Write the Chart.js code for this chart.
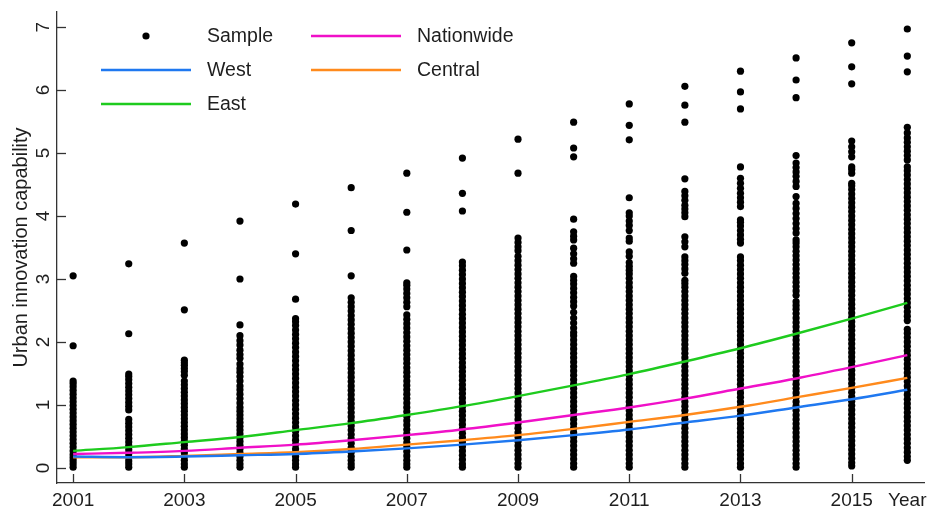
<!DOCTYPE html>
<html><head><meta charset="utf-8">
<script src="https://cdn.jsdelivr.net/npm/chart.js@4.4.1/dist/chart.umd.min.js"></script>
<style>html,body{margin:0;padding:0;background:#fff;}#wrap{width:932px;height:509px;}</style>
</head><body><div id="wrap"><canvas id="c" width="932" height="509"></canvas></div>
<script>
const years = [2001,2002,2003,2004,2005,2006,2007,2008,2009,2010,2011,2012,2013,2014,2015,2016];
const xTickValues = [2001,2003,2005,2007,2009,2011,2013,2015,2016];
const xTickLabels = ['2001','2003','2005','2007','2009','2011','2013','2015','Year'];
const yTickValues = [0,1,2,3,4,5,6,7];
const yTitle = 'Urban innovation capability';

const lineWest       = [0.18,0.17,0.18,0.20,0.22,0.26,0.31,0.37,0.44,0.52,0.61,0.72,0.83,0.96,1.09,1.24];
const lineEast       = [0.27,0.33,0.41,0.49,0.60,0.71,0.84,0.98,1.14,1.31,1.49,1.69,1.90,2.13,2.37,2.62];
const lineNationwide = [0.22,0.24,0.27,0.32,0.37,0.44,0.52,0.61,0.72,0.84,0.96,1.10,1.26,1.42,1.60,1.79];
const lineCentral    = [0.17,0.17,0.19,0.22,0.25,0.30,0.37,0.44,0.52,0.62,0.73,0.84,0.97,1.12,1.27,1.43];

const sample2001 = [0.01,0.06,0.11,0.16,0.21,0.27,0.33,0.39,0.45,0.51,0.57,0.63,0.69,0.75,0.81,0.87,0.93,0.99,1.05,1.11,1.17,1.23,1.29,1.34,1.38,1.94,3.05];
const sample2002 = [0.01,0.06,0.11,0.17,0.23,0.29,0.35,0.41,0.47,0.53,0.59,0.65,0.71,0.77,0.92,0.98,1.04,1.1,1.16,1.22,1.28,1.34,1.4,1.45,1.49,2.13,3.24];
const sample2003 = [0.01,0.06,0.12,0.18,0.24,0.3,0.36,0.42,0.48,0.54,0.6,0.66,0.72,0.78,0.84,0.9,0.96,1.02,1.08,1.14,1.2,1.26,1.32,1.38,1.47,1.53,1.58,1.63,1.67,1.71,2.51,3.57];
const sample2004 = [0.01,0.06,0.12,0.18,0.24,0.3,0.36,0.42,0.48,0.54,0.6,0.66,0.72,0.78,0.84,0.9,0.96,1.03,1.1,1.17,1.24,1.3,1.38,1.45,1.52,1.58,1.65,1.74,1.8,1.87,1.95,2.02,2.1,2.27,3.0,3.92];
const sample2005 = [0.01,0.06,0.12,0.18,0.24,0.3,0.37,0.44,0.51,0.58,0.65,0.72,0.79,0.86,0.93,1.0,1.07,1.14,1.21,1.28,1.35,1.42,1.49,1.56,1.63,1.7,1.77,1.84,1.91,1.98,2.05,2.12,2.19,2.26,2.32,2.37,2.68,3.4,4.19];
const sample2006 = [0.01,0.06,0.12,0.18,0.25,0.32,0.39,0.46,0.53,0.6,0.67,0.74,0.81,0.88,0.95,1.02,1.09,1.16,1.23,1.3,1.37,1.44,1.51,1.58,1.65,1.72,1.79,1.86,1.93,2.0,2.07,2.14,2.21,2.28,2.35,2.42,2.49,2.56,2.63,2.7,3.05,3.77,4.45];
const sample2007 = [0.01,0.06,0.12,0.19,0.26,0.33,0.4,0.47,0.54,0.61,0.68,0.75,0.82,0.89,0.96,1.03,1.1,1.17,1.24,1.31,1.38,1.45,1.52,1.59,1.66,1.73,1.8,1.87,1.94,2.01,2.08,2.15,2.22,2.29,2.36,2.43,2.56,2.63,2.7,2.77,2.84,2.9,2.94,3.46,4.06,4.68];
const sample2008 = [0.01,0.06,0.13,0.2,0.27,0.34,0.41,0.48,0.55,0.62,0.69,0.76,0.83,0.9,0.97,1.04,1.11,1.18,1.25,1.32,1.39,1.46,1.53,1.6,1.67,1.74,1.81,1.88,1.95,2.02,2.09,2.16,2.23,2.3,2.37,2.44,2.51,2.58,2.65,2.72,2.79,2.86,2.93,3.0,3.07,3.14,3.21,3.27,4.08,4.36,4.92];
const sample2009 = [0.01,0.07,0.14,0.21,0.28,0.35,0.42,0.49,0.56,0.63,0.7,0.77,0.84,0.91,0.98,1.05,1.12,1.19,1.26,1.33,1.4,1.47,1.54,1.61,1.68,1.75,1.82,1.89,1.96,2.03,2.1,2.17,2.24,2.31,2.38,2.45,2.52,2.59,2.66,2.73,2.8,2.87,2.94,3.01,3.08,3.15,3.22,3.29,3.36,3.45,3.51,3.58,3.65,4.68,5.22];
const sample2010 = [0.01,0.07,0.14,0.21,0.28,0.35,0.42,0.49,0.56,0.63,0.7,0.77,0.84,0.91,0.98,1.05,1.12,1.19,1.26,1.33,1.4,1.47,1.54,1.61,1.68,1.75,1.82,1.89,1.96,2.03,2.1,2.15,2.22,2.3,2.38,2.47,2.57,2.64,2.71,2.78,2.85,2.92,2.98,3.04,3.25,3.32,3.4,3.49,3.62,3.68,3.75,3.95,4.94,5.08,5.49];
const sample2011 = [0.01,0.07,0.14,0.21,0.28,0.35,0.42,0.49,0.56,0.63,0.7,0.77,0.84,0.91,0.98,1.05,1.12,1.19,1.26,1.33,1.4,1.47,1.54,1.61,1.68,1.75,1.82,1.89,1.96,2.03,2.1,2.17,2.24,2.31,2.38,2.45,2.52,2.59,2.66,2.73,2.8,2.87,2.94,3.01,3.08,3.14,3.2,3.26,3.36,3.43,3.6,3.65,3.77,3.85,3.92,4.0,4.05,4.29,5.21,5.44,5.78];
const sample2012 = [0.01,0.07,0.14,0.21,0.28,0.35,0.42,0.49,0.56,0.63,0.7,0.77,0.84,0.91,0.98,1.05,1.12,1.19,1.26,1.33,1.4,1.47,1.54,1.61,1.68,1.75,1.82,1.89,1.96,2.03,2.1,2.17,2.24,2.31,2.38,2.45,2.52,2.59,2.66,2.73,2.8,2.87,2.93,2.98,3.09,3.16,3.23,3.29,3.35,3.51,3.59,3.67,3.99,4.05,4.11,4.17,4.25,4.32,4.39,4.59,5.49,5.76,6.06];
const sample2013 = [0.01,0.07,0.14,0.21,0.28,0.35,0.42,0.49,0.56,0.63,0.7,0.77,0.84,0.91,0.98,1.05,1.12,1.19,1.26,1.33,1.4,1.47,1.54,1.61,1.68,1.75,1.82,1.89,1.96,2.03,2.1,2.17,2.24,2.31,2.38,2.45,2.52,2.59,2.66,2.73,2.8,2.87,2.94,3.01,3.08,3.15,3.22,3.29,3.35,3.57,3.63,3.7,3.77,3.84,3.9,3.94,4.15,4.22,4.29,4.36,4.44,4.52,4.6,4.78,5.7,5.97,6.3];
const sample2014 = [0.01,0.07,0.14,0.21,0.28,0.35,0.42,0.49,0.56,0.63,0.7,0.77,0.84,0.91,0.98,1.05,1.12,1.19,1.26,1.33,1.4,1.47,1.54,1.61,1.68,1.75,1.82,1.89,1.96,2.03,2.1,2.17,2.24,2.31,2.38,2.45,2.52,2.58,2.64,2.74,2.81,2.88,2.95,3.02,3.09,3.16,3.23,3.3,3.37,3.44,3.51,3.57,3.62,3.73,3.8,3.88,3.96,4.04,4.12,4.2,4.31,4.47,4.55,4.63,4.7,4.77,4.84,4.96,5.88,6.16,6.51];
const sample2015 = [0.03,0.08,0.15,0.22,0.29,0.36,0.43,0.5,0.57,0.64,0.71,0.78,0.85,0.92,0.99,1.06,1.13,1.2,1.27,1.34,1.41,1.48,1.55,1.62,1.69,1.76,1.83,1.9,1.97,2.04,2.11,2.18,2.25,2.32,2.39,2.46,2.53,2.6,2.67,2.74,2.81,2.88,2.95,3.02,3.09,3.16,3.23,3.3,3.37,3.44,3.51,3.58,3.65,3.72,3.79,3.86,3.93,4.0,4.07,4.14,4.21,4.28,4.35,4.42,4.48,4.52,4.68,4.74,4.78,4.94,5.02,5.1,5.19,6.1,6.37,6.75];
const sample2016 = [0.12,0.18,0.25,0.32,0.39,0.46,0.53,0.6,0.67,0.74,0.81,0.88,0.95,1.02,1.09,1.16,1.23,1.3,1.37,1.44,1.51,1.58,1.65,1.72,1.79,1.86,1.93,2.0,2.07,2.14,2.2,2.34,2.41,2.48,2.55,2.62,2.69,2.76,2.83,2.9,2.97,3.04,3.11,3.18,3.25,3.32,3.39,3.46,3.53,3.6,3.67,3.74,3.81,3.88,3.95,4.02,4.09,4.16,4.23,4.3,4.37,4.44,4.51,4.58,4.65,4.72,4.78,4.89,4.96,5.03,5.1,5.17,5.24,5.32,5.41,6.29,6.54,6.97];

const sampleByYear = [sample2001,sample2002,sample2003,sample2004,sample2005,sample2006,sample2007,sample2008,sample2009,sample2010,sample2011,sample2012,sample2013,sample2014,sample2015,sample2016];

const FONT = "'Liberation Sans', Arial, sans-serif";
const TXT = '#1e1e1e';

const samplePoints = [];
sampleByYear.forEach((arr, i) => arr.forEach(v => samplePoints.push({x: years[i], y: v})));
const toXY = arr => arr.map((v, i) => ({x: years[i], y: v}));

const lineDS = (label, data, color) => ({
  label, data: toXY(data), showLine: true, borderColor: color, backgroundColor: color,
  borderWidth: 2.4, pointRadius: 0, cubicInterpolationMode: 'monotone', fill: false, order: 1, legendSymbol: 'line'
});

const datasets = [
  {label: 'Sample', data: samplePoints, backgroundColor: '#000', borderWidth: 0, pointRadius: 3.6, order: 10, legendSymbol: 'dot'},
  lineDS('Nationwide', lineNationwide, '#f010c8'),
  lineDS('West', lineWest, '#1f78f0'),
  lineDS('Central', lineCentral, '#ff8a1c'),
  lineDS('East', lineEast, '#1ecb1e')
];

const decor = {
  id: 'decor',
  afterDraw(chart) {
    const {ctx, chartArea, scales: {x, y}} = chart;
    ctx.save();
    ctx.strokeStyle = '#333'; ctx.lineWidth = 1.3;
    xTickValues.forEach((v, i) => {
      if (xTickLabels[i] === 'Year') return;
      const px = Math.round(x.getPixelForValue(v)) + 0.5;
      ctx.beginPath(); ctx.moveTo(px, chartArea.bottom); ctx.lineTo(px, chartArea.bottom - 9); ctx.stroke();
    });
    yTickValues.forEach(v => {
      const py = Math.round(y.getPixelForValue(v)) + 0.5;
      ctx.beginPath(); ctx.moveTo(chartArea.left, py); ctx.lineTo(chartArea.left + 9, py); ctx.stroke();
    });
    const colSym = [146, 356], colText = [207, 417], rowY = [36, 70, 104];
    ctx.font = '19.5px ' + FONT; ctx.textBaseline = 'middle'; ctx.textAlign = 'left';
    chart.data.datasets.forEach((ds, i) => {
      const c = i % 2, r = Math.floor(i / 2);
      const cx = colSym[c], cy = rowY[r];
      if (ds.legendSymbol === 'dot') {
        ctx.fillStyle = ds.backgroundColor; ctx.beginPath(); ctx.arc(cx, cy, 3.6, 0, Math.PI * 2); ctx.fill();
      } else {
        ctx.strokeStyle = ds.borderColor; ctx.lineWidth = 2.4;
        ctx.beginPath(); ctx.moveTo(cx - 45, cy); ctx.lineTo(cx + 45, cy); ctx.stroke();
      }
      ctx.fillStyle = TXT; ctx.fillText(ds.label, colText[c], cy + 1);
    });
    ctx.restore();
  }
};

new Chart(document.getElementById('c'), {
  type: 'scatter',
  data: {datasets},
  options: {
    responsive: false, animation: false, devicePixelRatio: 1,
    layout: {padding: {top: 12, right: 8, left: 0, bottom: 0}},
    plugins: {legend: {display: false}, tooltip: {enabled: false}},
    scales: {
      x: {
        type: 'linear', min: 2000.71, max: 2016.3,
        afterBuildTicks: s => { s.ticks = xTickValues.map(v => ({value: v})); },
        afterFit: s => { s.height = 26; s.paddingLeft = 0; s.paddingRight = 0; },
        ticks: {autoSkip: false, maxRotation: 0, minRotation: 0, padding: 6, color: TXT,
          font: {family: FONT, size: 19},
          callback: (v) => { const i = xTickValues.indexOf(v); return i >= 0 ? xTickLabels[i] : ''; }},
        grid: {display: true, drawOnChartArea: false, drawTicks: false},
        border: {display: true, color: '#333', width: 1.3}
      },
      y: {
        type: 'linear', min: -0.24, max: 7.24,
        afterBuildTicks: s => { s.ticks = yTickValues.map(v => ({value: v})); },
        afterFit: s => { s.width = 57; s.paddingTop = 0; s.paddingBottom = 0; },
        ticks: {minRotation: 90, maxRotation: 90, crossAlign: 'center', padding: 8, color: TXT,
          font: {family: FONT, size: 19}, callback: v => String(v)},
        title: {display: true, text: yTitle, color: TXT, font: {family: FONT, size: 20}, padding: {top: 9, bottom: 0}},
        grid: {display: true, drawOnChartArea: false, drawTicks: false},
        border: {display: true, color: '#333', width: 1.3}
      }
    }
  },
  plugins: [decor]
});
</script></body></html>
